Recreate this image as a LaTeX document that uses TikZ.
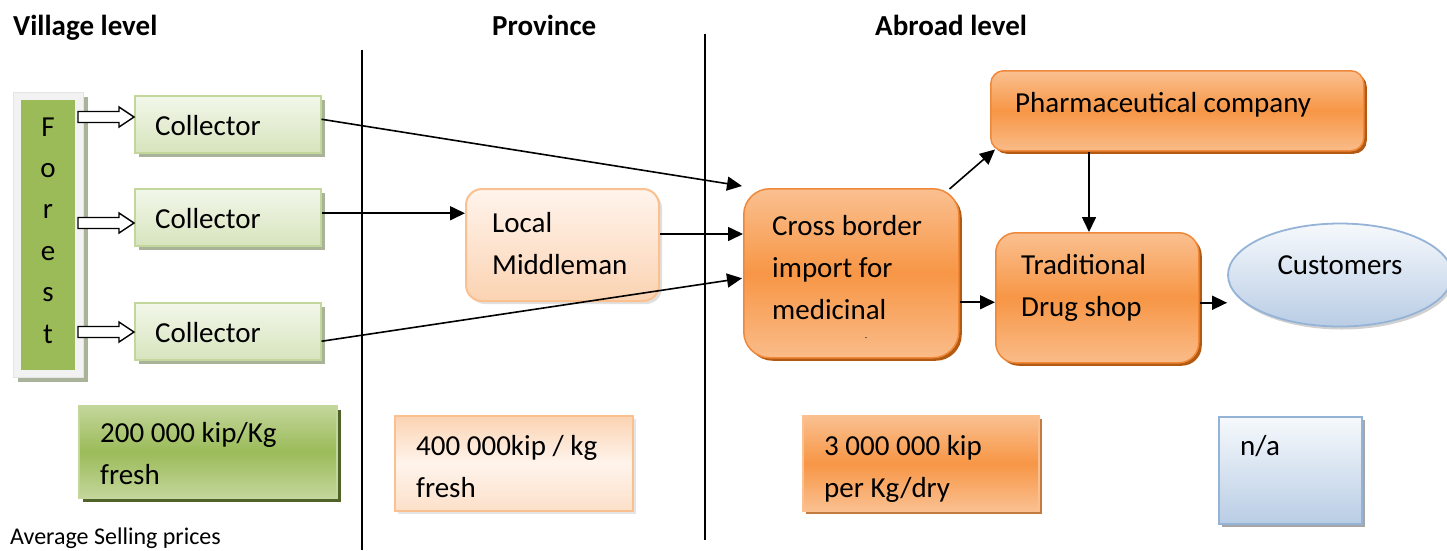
\documentclass[tikz,border=0pt]{standalone}
\usepackage{fontspec}
\setmainfont{Carlito}
\usetikzlibrary{shadows,arrows.meta,calc,shapes.geometric}

\definecolor{leaf}{HTML}{9BBB59}
\definecolor{leafpale}{HTML}{D7E4BD}
\definecolor{leaftint}{HTML}{F2F7EA}
\definecolor{leafline}{HTML}{C3D69B}
\definecolor{leafshade}{HTML}{A9B39A}
\definecolor{olive}{HTML}{4F6228}
\definecolor{amber}{HTML}{F79646}
\definecolor{amberpale}{HTML}{FAC090}
\definecolor{amberline}{HTML}{F0883A}
\definecolor{ambershade}{HTML}{B35A12}
\definecolor{peach}{HTML}{FBD3B2}
\definecolor{peachtint}{HTML}{FFF4EC}
\definecolor{sky}{HTML}{B9CDE5}
\definecolor{skytint}{HTML}{F6F9FC}
\definecolor{skyline}{HTML}{95B3D7}
\definecolor{frame}{HTML}{F2F2F2}
\definecolor{frameline}{HTML}{E4E4E4}

\begin{document}
\begin{tikzpicture}[x=1pt,y=-1pt,
  every node/.style={inner sep=0pt},
  txt/.style={anchor=base west, font=\fontsize{29}{42}\selectfont},
  multi/.style={txt, text width=#1, align=flush left},
  head/.style={anchor=base west, font=\fontsize{29}{34}\selectfont\bfseries},
  box/.style={anchor=north west, minimum width=#1},
  collbox/.style={box=186pt, minimum height=57pt, draw=leafline, line width=1.5pt,
    top color=leaftint, bottom color=leafpale,
    drop shadow={shadow xshift=4pt, shadow yshift=-4pt, fill=leafshade, opacity=1}},
  hotbox/.style={draw=amberline, line width=1.5pt,
    top color=amberpale, bottom color=amberpale!90!amber, middle color=amber,
    drop shadow={shadow xshift=3pt, shadow yshift=-3pt, fill=ambershade, opacity=1}},
  softbox/.style={draw=amberpale, line width=2pt,
    top color=peachtint, bottom color=peach,
    drop shadow={shadow xshift=3pt, shadow yshift=-3pt, fill=black!12, opacity=1}},
  link/.style={line width=1.6pt, -{Triangle[length=15pt,width=14pt]}},
  hollow/.style={draw=black, line width=1.4pt, fill=white, line join=miter},
  divider/.style={line width=1.3pt}]

\useasboundingbox (0,0) rectangle (1447,550);

% column headings
\node[head] (hv) at (13,35) {Village level};
\node[head] (hp) at (492,35) {Province};
\node[head] (ha) at (875,35) {Abroad level};

% column dividers
\draw[divider] (362,50) -- (362,550);
\draw[divider] (705,34) -- (705,540);

% forest column
\node[box=70pt, minimum height=285pt, fill=frame, draw=frameline, line width=1pt,
  drop shadow={shadow xshift=4pt, shadow yshift=-4pt, fill=leafshade, opacity=1}]
  (forestframe) at (13,92) {};
\node[box=54pt, minimum height=270pt, fill=leaf] (forest) at (21,100) {};
\foreach \ch [count=\i from 0] in {F,o,r,e,s,t}
  \node[anchor=base, font=\fontsize{29}{42}\selectfont] (forest-\i) at (48,136+41.4*\i) {\ch};

% collectors
\node[collbox] (c1) at (134,95) {};
\node[collbox] (c2) at (134,188) {};
\node[collbox] (c3) at (134,302) {};
\node[txt] (c1t) at (155,135) {Collector};
\node[txt] (c2t) at (155,228) {Collector};
\node[txt] (c3t) at (155,342) {Collector};

% hollow arrows from the forest to each collector
\foreach \k/\yy in {1/117,2/223,3/332} {
  \coordinate (h\k) at (78,\yy);
  \draw[hollow] ($(h\k)+(0,-5.5)$) -- ($(h\k -| c\k.west)+(-15,-5.5)$)
    -- ($(h\k -| c\k.west)+(-15,-10)$) -- (h\k -| c\k.west)
    -- ($(h\k -| c\k.west)+(-15,10)$) -- ($(h\k -| c\k.west)+(-15,5.5)$)
    -- ($(h\k)+(0,5.5)$) -- cycle;
}

% province
\node[box=193pt, minimum height=112pt, rounded corners=16pt, softbox] (mid) at (465,188) {};
\node[multi=180pt] (midt) at (492,232) {Local\\Middleman};

% abroad
\node[box=215pt, minimum height=169pt, rounded corners=26pt, hotbox] (cross) at (743,188) {};
\node[multi=190pt] (crosst) at (772,235) {Cross border\\import for\\medicinal};
\node[font=\fontsize{8}{8}\selectfont] (crossmark) at (866,339) {-};

\node[box=373pt, minimum height=80pt, rounded corners=13pt, hotbox] (pharma) at (990,70) {};
\node[txt] (pharmat) at (1015,112) {Pharmaceutical company};

\node[box=203pt, minimum height=130pt, rounded corners=20pt, hotbox] (trad) at (995,232) {};
\node[multi=180pt] (tradt) at (1021,274) {Traditional\\Drug shop};

\node[ellipse, minimum width=224pt, minimum height=103pt, draw=skyline, line width=1.8pt,
  top color=skytint, bottom color=sky,
  drop shadow={shadow xshift=2pt, shadow yshift=-3pt, fill=black!18, opacity=1}]
  (cust) at (1340,275) {};
\node[anchor=base, font=\fontsize{29}{42}\selectfont] (custt) at (1340,274) {Customers};

% flows
\draw[link] ($(c1.east)+(0,-5)$) -- ($(cross.north west)+(-1,-2)$);
\draw[link] ($(c2.east)+(0,-4)$) coordinate (c2o) -- (c2o -| mid.west);
\draw[link] ($(c3.east)+(0,10)$) -- ($(cross.west)+(-1,5)$);
\draw[link] ($(mid.east)+(0,-11)$) coordinate (mido) -- (mido -| cross.west);
\draw[link] ($(cross.north east)+(-10,1)$) -- ($(pharma.south west)+(5,-2)$);
\draw[link] ($(cross.east)+(0,29)$) coordinate (crosso) -- (crosso -| trad.west);
\draw[link] ($(pharma.south west)+(99,0)$) coordinate (pharmao) -- (pharmao |- trad.north);
\draw[link] ($(trad.east)+(0,5)$) coordinate (trado) -- (trado -| cust.west);

% average selling prices
\node[box=258pt, minimum height=92pt, draw=leafline, line width=1.5pt,
  top color=leafline, bottom color=leafline, middle color=leaf,
  drop shadow={shadow xshift=4pt, shadow yshift=-4pt, fill=olive, opacity=1}]
  (p1) at (78,405) {};
\node[multi=230pt] (p1t) at (100,442) {200 000 kip/Kg\\fresh};

\node[box=238pt, minimum height=95pt, draw=amberpale, line width=1.5pt,
  top color=peach, bottom color=peach!70, middle color=peachtint,
  drop shadow={shadow xshift=3pt, shadow yshift=-3pt, fill=black!10, opacity=1}]
  (p2) at (394,415) {};
\node[multi=220pt] (p2t) at (416,455) {400 000kip / kg\\fresh};

\node[box=236pt, minimum height=95pt, draw=amberpale, line width=1.5pt,
  top color=amberpale, bottom color=amberpale, middle color=amber,
  drop shadow={shadow xshift=3pt, shadow yshift=-3pt, fill=ambershade!80, opacity=1}]
  (p3) at (802,415) {};
\node[multi=210pt] (p3t) at (824,455) {3 000 000 kip\\per Kg/dry};

\node[box=143pt, minimum height=107pt, draw=skyline, line width=1.8pt,
  top color=skytint, bottom color=sky,
  drop shadow={shadow xshift=3pt, shadow yshift=-3pt, fill=black!35, opacity=1}]
  (p4) at (1218,416) {};
\node[txt] (p4t) at (1240,455) {n/a};

\node[anchor=base west, font=\fontsize{24}{28}\selectfont] (avg) at (10,544) {Average Selling prices};

\end{tikzpicture}
\end{document}
